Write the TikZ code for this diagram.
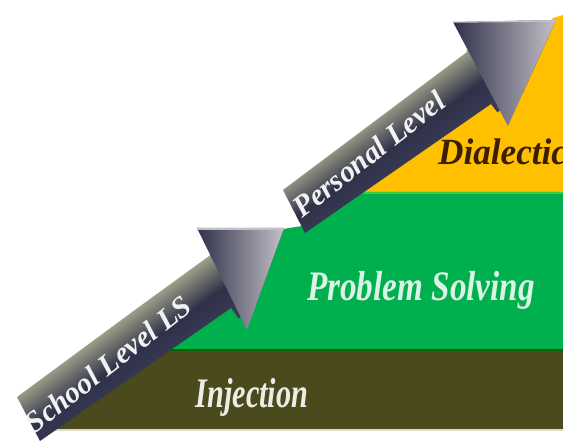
\documentclass[tikz,border=0pt]{standalone}
\usepackage{fontspec}
\setmainfont{Liberation Serif}
\usepackage{tikz}

\definecolor{injcol}{HTML}{4B4A1C}
\definecolor{solvecol}{HTML}{00AF4E}
\definecolor{dialcol}{HTML}{FFC000}
\definecolor{shaftlt}{HTML}{9B9D88}
\definecolor{shaftdk}{HTML}{2F3149}
\definecolor{shaftmd}{HTML}{3C3D58}
\definecolor{headlt}{HTML}{C4C0C8}
\definecolor{dialtxt}{HTML}{3C1E05}

\begin{document}
\begin{tikzpicture}[x=1pt, y=-1pt,
  lbl/.style={inner sep=0pt, font=\fontsize{42}{42}\selectfont\itshape\bfseries},
  tag/.style={inner sep=0pt, text=white!95!black, rotate=38,
    font=\fontsize{30}{30}\selectfont\itshape\bfseries},
  shaft/.style={top color=shaftlt, bottom color=shaftmd, middle color=shaftdk},
  head/.style={left color=shaftdk, right color=headlt}]
\useasboundingbox (0,0) rectangle (563,443);

% the three levels, back to front
\fill[dialcol] (350,195) -- (553,18) -- (563,15) -- (563,193) -- cycle;
\fill[solvecol] (160,352) -- (283,229) -- (302,226) -- (330,192) -- (563,192) -- (563,352) -- cycle;
\draw[green!70!white!80!black, line width=2pt] (350,193) -- (563,193);
\fill[injcol] (50,430) -- (165,350) -- (563,350) -- (563,429) -- cycle;
\draw[green!40!black, line width=2pt] (165,350) -- (563,350);
\draw[injcol!20!white, line width=2pt] (50,430) -- (563,430);

% lower arrow
\begin{scope}
  \clip (17,397) -- (208,256) -- (197,228) -- (284,228) -- (247,330) -- (231,308) -- (40,441) -- cycle;
  \shade[shaft, transform canvas={rotate around={36:(124,350)}}] (-100,324) rectangle (350,392);
  \shade[head] (197,228) -- (284,228) -- (247,330) -- cycle;
  \draw[headlt, line width=1.5pt] (197,229) -- (284,229);
\end{scope}

% upper arrow
\begin{scope}
  \clip (283,190) -- (467,52) -- (453,22) -- (556,20) -- (508,126) -- (491,104) -- (305,233) -- cycle;
  \shade[shaft, transform canvas={rotate around={36:(385,142)}}] (160,116) rectangle (610,184);
  \shade[head] (453,22) -- (556,20) -- (508,126) -- cycle;
  \draw[headlt, line width=1.5pt] (453,22) -- (556,21);
\end{scope}

\node[lbl, text=injcol!10!white, anchor=base, xscale=0.72] (inj) at (252,408) {Injection};
\node[lbl, text=solvecol!15!white, anchor=base, xscale=0.79] (ps) at (421,301) {Problem Solving};
\node[lbl, text=dialtxt, anchor=base west, xscale=0.95,
  font=\fontsize{37}{37}\selectfont\itshape\bfseries] (dia) at (438,165) {Dialectic};
\node[tag] (sl) at (108,364) {School Level LS};
\node[tag] (pl) at (369,154) {Personal Level};
\end{tikzpicture}
\end{document}
